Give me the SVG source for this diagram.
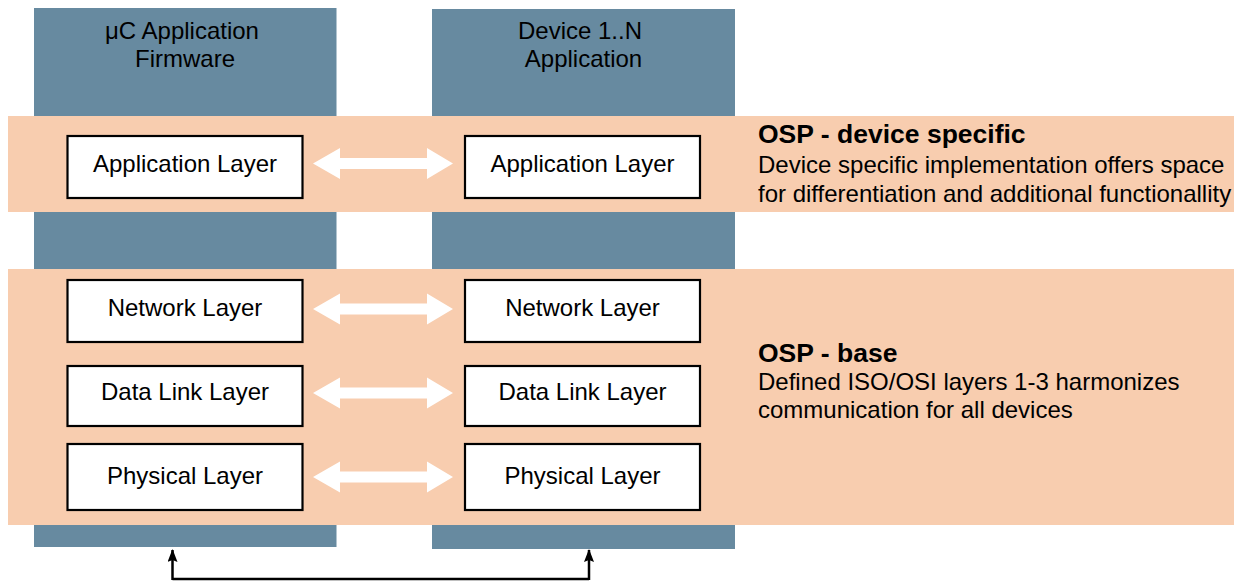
<svg xmlns="http://www.w3.org/2000/svg" width="1246" height="581" viewBox="0 0 1246 581">
<defs>
<style>
.col{fill:#678AA0}
.band{fill:#F8CDAF}
.box{fill:#ffffff;stroke:#000000;stroke-width:2.2}
.t{font-family:"Liberation Sans",Arial,sans-serif;font-size:24px;fill:#000000}
.c{text-anchor:middle}
.b{font-weight:bold;font-size:26.5px}
.warr{fill:#ffffff}
.conn{fill:none;stroke:#000000;stroke-width:2.5}
</style>
<marker id="ah" viewBox="0 0 13 10" refX="12" refY="5" markerWidth="13" markerHeight="10" markerUnits="userSpaceOnUse" orient="auto">
<path d="M0,0 L13,5 L0,10 L2,5 Z" fill="#000000"/>
</marker>
<path id="dbl" d="M0,0 L27,-15.5 L27,-5.5 L114,-5.5 L114,-15.5 L140,0 L114,15.5 L114,5.5 L27,5.5 L27,15.5 Z"/>
</defs>
<rect width="1246" height="581" fill="#ffffff"/>
<g id="col-uc">
<rect class="col" x="34" y="8" width="302.5" height="539"/>
<text class="t c" x="182" y="39">μC Application</text>
<text class="t c" x="185" y="67">Firmware</text>
</g>
<g id="col-dev">
<rect class="col" x="432" y="9" width="303" height="540"/>
<text class="t c" x="580" y="39">Device 1..N</text>
<text class="t c" x="583.5" y="67">Application</text>
</g>
<g id="band-specific">
<rect class="band" x="8" y="116" width="1226" height="96"/>
<text class="t b" x="758" y="143">OSP - device specific</text>
<text class="t" x="758" y="173">Device specific implementation offers space</text>
<text class="t" x="758" y="202">for differentiation and additional functionallity</text>
</g>
<g id="band-base">
<rect class="band" x="8" y="269" width="1226" height="256"/>
<text class="t b" x="758" y="362">OSP - base</text>
<text class="t" x="758" y="390">Defined ISO/OSI layers 1-3 harmonizes</text>
<text class="t" x="758" y="418">communication for all devices</text>
</g>
<g id="uc-app"><rect class="box" x="67.5" y="136" width="235" height="62"/><text class="t c" x="185" y="172">Application Layer</text></g>
<g id="dev-app"><rect class="box" x="465" y="136" width="235" height="62"/><text class="t c" x="582.5" y="172">Application Layer</text></g>
<g id="uc-net"><rect class="box" x="67.5" y="280" width="235" height="62"/><text class="t c" x="185" y="316">Network Layer</text></g>
<g id="dev-net"><rect class="box" x="465" y="280" width="235" height="62"/><text class="t c" x="582.5" y="316">Network Layer</text></g>
<g id="uc-dll"><rect class="box" x="67.5" y="366" width="235" height="60"/><text class="t c" x="185" y="400">Data Link Layer</text></g>
<g id="dev-dll"><rect class="box" x="465" y="366" width="235" height="60"/><text class="t c" x="582.5" y="400">Data Link Layer</text></g>
<g id="uc-phy"><rect class="box" x="67.5" y="444" width="235" height="66"/><text class="t c" x="185" y="484">Physical Layer</text></g>
<g id="dev-phy"><rect class="box" x="465" y="444" width="235" height="66"/><text class="t c" x="582.5" y="484">Physical Layer</text></g>
<g id="connectors">
<use href="#dbl" class="warr" x="313" y="163.5"/>
<use href="#dbl" class="warr" x="313" y="309"/>
<use href="#dbl" class="warr" x="313" y="393"/>
<use href="#dbl" class="warr" x="313" y="477"/>
<path class="conn" d="M172.5,579 L589,579"/>
<path class="conn" d="M172.5,580 L172.5,550" marker-end="url(#ah)"/>
<path class="conn" d="M589,580 L589,550" marker-end="url(#ah)"/>
</g>
</svg>
